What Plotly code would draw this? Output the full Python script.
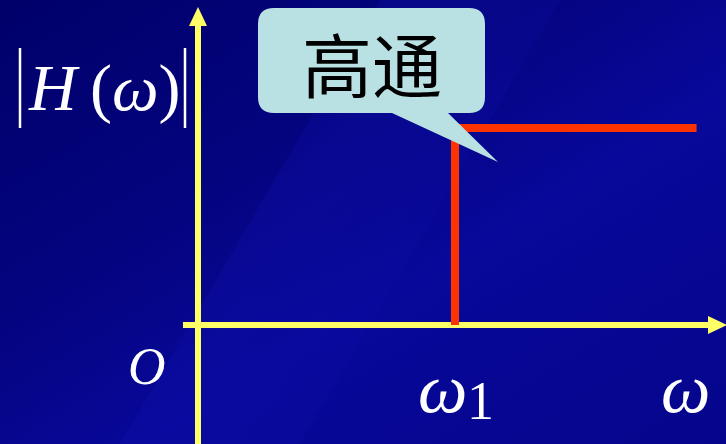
import base64
import plotly.graph_objects as go

# high-pass magnitude response |H(w)|: 0 below w1, 1 above
freq = [1.0, 1.0, 1.94]
gain = [0.0, 1.0, 1.0]
cutoff_label = "ω"
callout_text = "高通"

W, H = 726, 444
# pixel -> data helpers (origin at pixel (198, 325))
def dx(px):
    return (px - 198) / 257
def dy(py):
    return (325 - py) / 197

BG_SVG = f"""<svg xmlns='http://www.w3.org/2000/svg' width='{W}' height='{H}'>
<defs>
<linearGradient id='g' x1='0' y1='0' x2='1' y2='1'>
<stop offset='0' stop-color='#00006a'/>
<stop offset='0.35' stop-color='#04047f'/>
<stop offset='0.6' stop-color='#08089a'/>
<stop offset='1' stop-color='#05058c'/>
</linearGradient>
<linearGradient id='s' x1='0' y1='0' x2='1' y2='0.6'>
<stop offset='0' stop-color='#1010b0' stop-opacity='0'/>
<stop offset='0.5' stop-color='#1010b0' stop-opacity='0.3'/>
<stop offset='1' stop-color='#1010b0' stop-opacity='0'/>
</linearGradient>
</defs>
<rect width='{W}' height='{H}' fill='url(#g)'/>
<polygon points='380,0 560,0 300,444 120,444' fill='url(#s)'/>
</svg>"""
bg_uri = "data:image/svg+xml;base64," + base64.b64encode(BG_SVG.encode()).decode()

fig = go.Figure()
fig.add_trace(go.Scatter(
    x=freq, y=gain, mode="lines",
    line=dict(color="#ff3300", width=8),
    hoverinfo="skip", showlegend=False,
))

yellow = "#ffff66"
shapes = []
# axes
shapes.append(dict(type="line", x0=dx(183), y0=dy(325), x1=dx(710), y1=dy(325),
                   line=dict(color=yellow, width=6), layer="below"))
shapes.append(dict(type="line", x0=dx(198), y0=dy(444), x1=dx(198), y1=dy(24),
                   line=dict(color=yellow, width=6), layer="below"))
# arrow heads
shapes.append(dict(type="path", layer="below", fillcolor=yellow, line=dict(width=0),
                   path=f"M {dx(708)},{dy(316)} L {dx(727)},{dy(325)} L {dx(708)},{dy(334)} Z"))
shapes.append(dict(type="path", layer="below", fillcolor=yellow, line=dict(width=0),
                   path=f"M {dx(189)},{dy(26)} L {dx(198)},{dy(7)} L {dx(207)},{dy(26)} Z"))

# callout bubble with tail
L, R, T, B, r = 258, 485, 8, 113, 16
bubble = (
    f"M {dx(L + r)},{dy(T)} L {dx(R - r)},{dy(T)} "
    f"Q {dx(R)},{dy(T)} {dx(R)},{dy(T + r)} "
    f"L {dx(R)},{dy(B - r)} Q {dx(R)},{dy(B)} {dx(R - r)},{dy(B)} "
    f"L {dx(448)},{dy(B)} L {dx(498)},{dy(162)} L {dx(392)},{dy(B)} "
    f"L {dx(L + r)},{dy(B)} Q {dx(L)},{dy(B)} {dx(L)},{dy(B - r)} "
    f"L {dx(L)},{dy(T + r)} Q {dx(L)},{dy(T)} {dx(L + r)},{dy(T)} Z"
)
shapes.append(dict(type="path", path=bubble, fillcolor="#b9e0e3",
                   line=dict(width=0), layer="above"))

# |...| bars around H(w)
for bx in (20, 185):
    shapes.append(dict(type="line", x0=dx(bx), x1=dx(bx), y0=dy(48), y1=dy(128),
                       line=dict(color="white", width=2.5), layer="above"))

serif = "Liberation Serif"
ann = [
    dict(x=dx(104), y=dy(88), text="<i>H</i>\u2009(<i>ω</i>)",
         font=dict(family=serif, size=66, color="white")),
    dict(x=dx(147), y=dy(366), text="<i>O</i>",
         font=dict(family=serif, size=52, color="white")),
    dict(x=dx(442), y=dy(388), text=f"<i>{cutoff_label}</i>",
         font=dict(family=serif, size=70, color="white")),
    dict(x=dx(480), y=dy(401), text="1",
         font=dict(family=serif, size=54, color="white")),
    dict(x=dx(685), y=dy(388), text=f"<i>{cutoff_label}</i>",
         font=dict(family=serif, size=70, color="white")),
    dict(x=dx(372), y=dy(62), text=callout_text,
         font=dict(family="Noto Sans CJK SC", size=70, color="black")),
]
for a in ann:
    a.update(xref="x", yref="y", showarrow=False, xanchor="center", yanchor="middle")

fig.update_layout(
    width=W, height=H,
    margin=dict(l=0, r=0, t=0, b=0),
    paper_bgcolor="#04047f", plot_bgcolor="rgba(0,0,0,0)",
    xaxis=dict(range=[dx(0), dx(W)], visible=False, fixedrange=True),
    yaxis=dict(range=[dy(H), dy(0)], visible=False, fixedrange=True),
    shapes=shapes, annotations=ann,
    images=[dict(source=bg_uri, xref="paper", yref="paper", x=0, y=1,
                 sizex=1, sizey=1, xanchor="left", yanchor="top",
                 sizing="stretch", layer="below")],
    showlegend=False,
)

fig.write_html("out.html", config=dict(displayModeBar=False),
               post_script="document.body.style.margin='0';document.body.style.overflow='hidden';")
